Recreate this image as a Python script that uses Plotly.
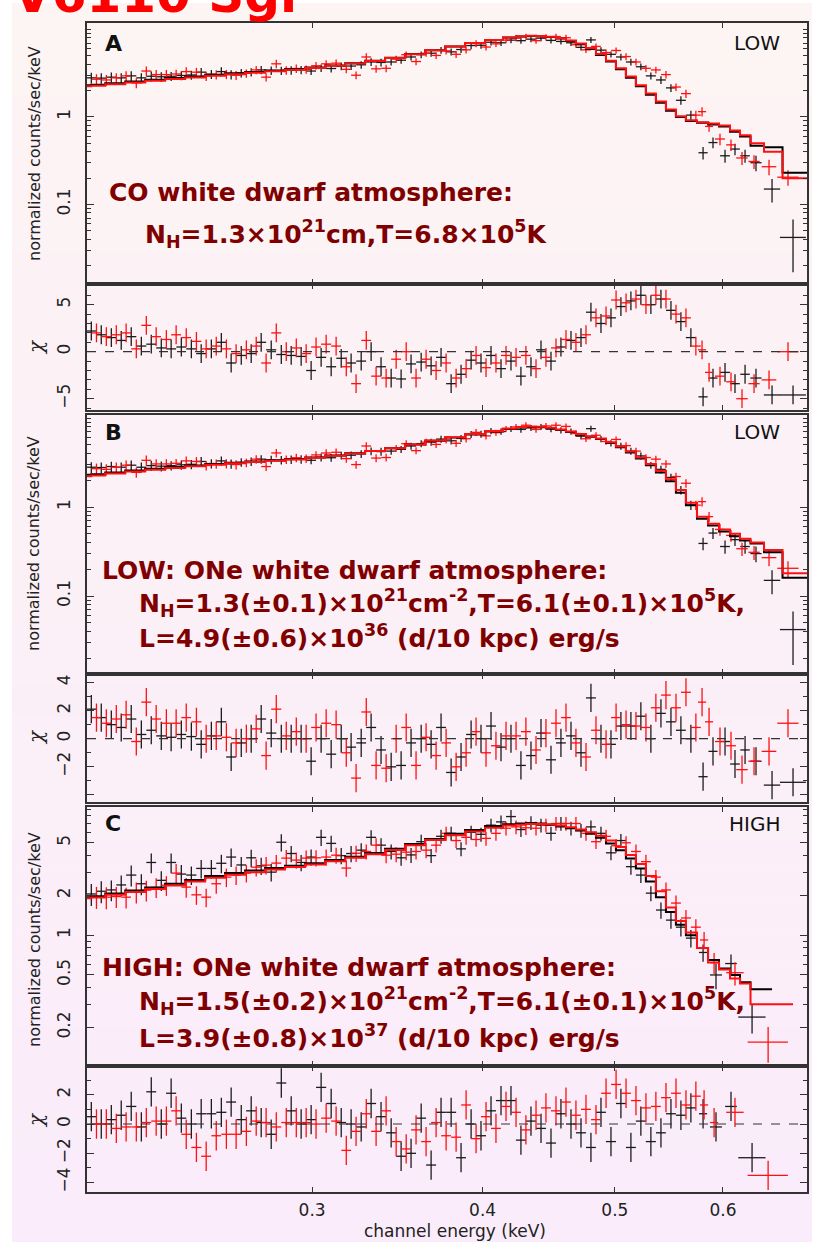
import math
import plotly.graph_objects as go

# ------------------------------------------------------------------ data
# regular channel bins (keV) and half widths
E_REG_BLACK = [0.2067, 0.2102, 0.2138, 0.2174, 0.2211, 0.2249, 0.2287, 0.2326, 0.2365, 0.2406,
               0.2447, 0.2488, 0.2531, 0.2574, 0.2617, 0.2662, 0.2707, 0.2753, 0.2800, 0.2848,
               0.2896, 0.2945, 0.2995, 0.3046, 0.3098, 0.3151, 0.3204, 0.3259, 0.3314, 0.3370,
               0.3428, 0.3486, 0.3545, 0.3606, 0.3667, 0.3729, 0.3793, 0.3857, 0.3923, 0.3989,
               0.4057, 0.4126, 0.4196, 0.4267, 0.4340, 0.4414, 0.4489, 0.4565, 0.4643, 0.4722,
               0.4802, 0.4884, 0.4967, 0.5051, 0.5137, 0.5224, 0.5313, 0.5404, 0.5496, 0.5589,
               0.5684]
E_REG_RED = [0.2085, 0.2120, 0.2156, 0.2192, 0.2230, 0.2268, 0.2306, 0.2346, 0.2385, 0.2426,
             0.2468, 0.2509, 0.2552, 0.2596, 0.2639, 0.2685, 0.2730, 0.2776, 0.2824, 0.2872,
             0.2921, 0.2970, 0.3020, 0.3072, 0.3124, 0.3178, 0.3231, 0.3287, 0.3342, 0.3399,
             0.3457, 0.3516, 0.3575, 0.3636, 0.3698, 0.3761, 0.3825, 0.3890, 0.3956, 0.4023,
             0.4091, 0.4161, 0.4232, 0.4303, 0.4377, 0.4451, 0.4527, 0.4604, 0.4682, 0.4762,
             0.4843, 0.4926, 0.5010, 0.5095, 0.5181, 0.5269, 0.5358, 0.5450, 0.5543, 0.5637,
             0.5732]
HW_REG = [0.0017, 0.0018, 0.0018, 0.0018, 0.0019, 0.0019, 0.0019, 0.0020, 0.0020, 0.0020,
          0.0021, 0.0021, 0.0021, 0.0022, 0.0022, 0.0022, 0.0023, 0.0023, 0.0024, 0.0024,
          0.0024, 0.0025, 0.0025, 0.0026, 0.0026, 0.0026, 0.0027, 0.0027, 0.0028, 0.0028,
          0.0029, 0.0029, 0.0030, 0.0030, 0.0031, 0.0031, 0.0032, 0.0032, 0.0033, 0.0034,
          0.0034, 0.0035, 0.0035, 0.0036, 0.0036, 0.0037, 0.0038, 0.0038, 0.0039, 0.0040,
          0.0040, 0.0041, 0.0042, 0.0042, 0.0043, 0.0044, 0.0045, 0.0045, 0.0046, 0.0047,
          0.0048]

# LOW state spectrum (panels A and B)
E_LOW_BLACK_WIDE = [0.5802, 0.5900, 0.6021, 0.6123, 0.6228, 0.6344, 0.6518, 0.6753]
HW_LOW_BLACK_WIDE = [0.0045, 0.0045, 0.005, 0.005, 0.005, 0.006, 0.009, 0.0148]
Y_LOW_BLACK = [2.80, 2.78, 2.85, 2.80, 2.95, 2.80, 2.92, 2.88, 2.92, 2.98,
               3.02, 3.25, 3.08, 3.30, 3.05, 3.18, 3.25, 3.45, 3.40, 3.38,
               3.42, 3.45, 3.35, 3.62, 3.58, 3.80, 3.82, 3.95, 4.25, 4.20,
               4.25, 4.45, 4.85, 5.15, 5.35, 5.80, 5.55, 5.90, 6.55, 6.60,
               7.15, 7.05, 7.55, 7.45, 7.75, 7.95, 7.50, 7.30, 7.05, 6.25,
               7.60, 5.80, 5.20, 4.85, 4.25, 3.75, 2.95, 2.65, 2.15, 1.55,
               1.05,
               0.39, 0.51, 0.36, 0.43, 0.36, 0.30, 0.15, 0.042]
E_LOW_RED_WIDE = [0.5792, 0.5861, 0.5970, 0.6082, 0.6196, 0.6323, 0.6485, 0.6696]
HW_LOW_RED_WIDE = [0.004, 0.004, 0.005, 0.005, 0.006, 0.006, 0.008, 0.012]
Y_LOW_RED = [2.70, 2.65, 2.80, 2.95, 2.45, 3.35, 3.05, 3.05, 3.10, 3.30,
             3.25, 2.93, 3.05, 3.08, 3.00, 3.15, 3.45, 2.85, 4.05, 3.42,
             3.58, 3.50, 3.85, 4.05, 4.12, 3.50, 3.00, 4.85, 3.55, 3.60,
             4.58, 5.15, 4.30, 5.35, 5.05, 5.70, 5.20, 5.85, 6.90, 6.30,
             6.85, 7.55, 7.95, 8.30, 7.45, 8.15, 8.30, 8.05, 6.70, 5.85,
             6.40, 5.45, 5.75, 4.90, 4.25, 3.60, 3.45, 3.05, 2.20, 1.85,
             1.05,
             1.15, 0.78, 0.56, 0.48, 0.34, 0.31, 0.27, 0.205]
REL_LOW = [0.14, 0.14, 0.13, 0.13, 0.13, 0.13, 0.13, 0.13, 0.12, 0.12,
           0.12, 0.12, 0.12, 0.12, 0.12, 0.11, 0.11, 0.11, 0.11, 0.11,
           0.11, 0.11, 0.10, 0.10, 0.10, 0.10, 0.10, 0.10, 0.10, 0.10,
           0.09, 0.09, 0.09, 0.09, 0.09, 0.09, 0.09, 0.09, 0.09, 0.09,
           0.08, 0.08, 0.08, 0.08, 0.08, 0.08, 0.08, 0.08, 0.08, 0.08,
           0.08, 0.08, 0.08, 0.09, 0.09, 0.09, 0.09, 0.10, 0.10, 0.11,
           0.12]
REL_LOW_BLACK_WIDE = [0.16, 0.14, 0.17, 0.15, 0.17, 0.20, 0.30, 0.60]
REL_LOW_RED_WIDE = [0.12, 0.13, 0.15, 0.15, 0.17, 0.18, 0.20, 0.20]

# residuals (chi) for CO model (A) and ONe model (B)
RES_A_BLACK = [2.2, 1.8, 1.5, 1.2, 1.6, 0.6, 0.8, 0.4, 0.3, 0.5,
               0.3, -0.2, 0.3, 1.0, -1.2, -0.4, -0.2, 1.0, 0.2, -0.3,
               -0.4, -0.5, -2.0, -0.6, -1.6, -0.7, -1.2, -1.0, 0.0, -1.6,
               -2.8, -2.9, -1.3, -1.1, -1.5, -0.6, -3.4, -2.4, -0.9, -1.2,
               -0.4, -1.8, -1.0, -2.6, -1.6, 0.2, -1.0, 0.5, 1.2, 1.5,
               4.2, 3.0, 3.6, 4.8, 5.4, 6.0, 5.0, 5.6, 4.4, 3.2,
               1.5,
               -4.8, -2.8, -2.2, -3.4, -2.4, -2.8, -4.6, -4.6]
RES_A_RED = [2.0, 1.6, 1.8, 2.0, 0.3, 2.8, 1.6, 1.3, 1.8, 1.5,
             1.1, 0.3, 0.6, 0.3, -0.2, 0.2, 0.6, -1.2, 2.0, 0.0,
             0.4, -0.2, 0.5, 0.8, 0.6, -1.6, -3.4, 1.2, -2.6, -2.8,
             -0.8, 0.0, -2.8, -0.8, -2.0, -1.2, -2.8, -1.8, -0.4, -1.7,
             -1.2, -0.4, -0.6, -0.4, -1.8, -0.6, 0.4, 1.3, 1.0, 1.8,
             3.6, 3.8, 5.5, 5.2, 5.6, 5.0, 6.0, 5.6, 4.0, 3.6,
             0.6,
             0.2, -2.2, -2.6, -3.2, -5.0, -3.4, -3.0, 0.0]
RES_B_BLACK = [2.1, 1.5, 1.0, 0.8, 1.4, 0.3, 0.6, 0.2, 0.1, 0.3,
               0.15, -0.4, 0.2, 1.2, -1.3, -0.3, 0.0, 1.4, 0.4, 0.0,
               0.0, 0.0, -1.6, 0.0, -1.1, 0.0, -0.6, -0.3, 0.8, -0.8,
               -2.0, -1.9, -0.3, 0.0, -0.4, 0.8, -2.4, -1.3, 0.3, 0.0,
               0.9, -0.6, 0.0, -1.9, -1.2, 0.4, -1.5, -0.3, 0.2, -1.0,
               2.9, 0.0, -0.4, 0.9, 0.9, 1.6, 0.0, 1.8, 1.2, 0.6,
               0.0,
               -2.7, -0.9, -0.2, -1.8, -0.8, -1.6, -3.3, -3.1]
RES_B_RED = [1.5, 1.1, 1.4, 1.7, -0.2, 2.6, 1.4, 1.1, 1.1, 1.5,
             1.2, 0.0, 0.2, 0.1, -0.3, 0.0, 0.7, -1.2, 2.1, 0.2,
             0.5, 0.0, 0.8, 1.1, 1.0, -1.0, -2.8, 1.9, -1.9, -2.1,
             0.0, 0.8, -1.9, 0.1, -1.2, -0.3, -2.0, -1.0, 0.5, -1.0,
             -0.5, 0.2, 0.2, 0.5, -0.8, 0.4, 1.1, 1.5, -0.3, -1.3,
             0.6, -0.4, 1.5, 1.0, 0.9, 0.8, 2.2, 3.1, 2.2, 3.3,
             0.8,
             2.6, 1.2, -0.2, -0.5, -2.2, -1.6, -0.9, 1.1]

# HIGH state spectrum (panel C)
E_HIGH_BLACK_WIDE = [0.5802, 0.5930, 0.6082, 0.6302]
HW_HIGH_BLACK_WIDE = [0.004, 0.006, 0.006, 0.0145]
E_HIGH_RED_WIDE = [0.5812, 0.5911, 0.6123, 0.6475]
HW_HIGH_RED_WIDE = [0.004, 0.004, 0.009, 0.022]
Y_HIGH_BLACK = [2.05, 2.15, 2.20, 2.40, 2.85, 2.45, 3.55, 2.60, 3.55, 2.90,
                2.85, 3.20, 3.20, 3.50, 3.90, 3.40, 3.85, 3.35, 3.00, 5.05,
                4.15, 3.55, 3.90, 5.50, 4.95, 4.00, 4.15, 4.40, 5.50, 4.80,
                4.30, 3.85, 4.05, 5.10, 4.00, 5.60, 5.90, 4.50, 6.00, 5.80,
                6.80, 7.20, 7.90, 6.30, 7.10, 6.80, 5.90, 7.00, 6.45, 6.20,
                6.60, 5.90, 4.20, 5.20, 3.30, 2.85, 2.08, 1.55, 1.30, 1.15,
                0.95,
                0.74, 0.50, 0.61, 0.24]
Y_HIGH_RED = [1.95, 1.94, 1.96, 1.94, 2.12, 2.19, 2.30, 2.39, 2.95, 2.31,
              2.02, 1.94, 2.45, 2.75, 2.85, 2.95, 3.27, 3.39, 3.51, 3.83,
              3.70, 3.83, 3.85, 3.90, 4.03, 3.22, 4.17, 4.30, 4.80, 4.03,
              4.10, 4.25, 4.30, 4.40, 4.80, 5.90, 5.20, 5.50, 5.30, 5.40,
              5.90, 6.45, 6.60, 6.50, 6.45, 6.80, 7.00, 7.00, 7.00, 5.90,
              5.10, 5.60, 4.75, 5.00, 4.30, 3.60, 2.75, 2.20, 1.75, 1.35,
              1.15,
              0.92, 0.62, 0.52, 0.155]
REL_HIGH = [0.19, 0.19, 0.18, 0.18, 0.18, 0.18, 0.17, 0.17, 0.17, 0.17,
            0.16, 0.16, 0.16, 0.16, 0.16, 0.15, 0.15, 0.15, 0.15, 0.15,
            0.14, 0.14, 0.14, 0.14, 0.14, 0.14, 0.14, 0.13, 0.13, 0.13,
            0.13, 0.13, 0.13, 0.13, 0.12, 0.12, 0.12, 0.12, 0.12, 0.12,
            0.12, 0.12, 0.12, 0.12, 0.12, 0.12, 0.12, 0.12, 0.12, 0.12,
            0.12, 0.12, 0.12, 0.12, 0.13, 0.13, 0.13, 0.14, 0.14, 0.15,
            0.15]
REL_HIGH_BLACK_WIDE = [0.15, 0.22, 0.17, 0.25]
REL_HIGH_RED_WIDE = [0.15, 0.18, 0.20, 0.30]
RES_C_BLACK = [0.5, 0.0, 0.3, 0.6, 1.2, -0.2, 2.2, 0.0, 2.1, 0.4,
               0.0, 0.7, 0.7, 0.8, 1.5, 0.3, 0.9, 0.1, -0.7, 2.8,
               0.9, 0.0, 0.3, 2.5, 1.4, 0.1, 0.0, -0.2, 1.4, 0.5,
               -0.6, -2.2, -2.0, 0.4, -2.8, 0.8, 0.8, -2.3, 0.0, -0.8,
               0.9, 1.6, 1.6, -1.1, 0.2, -0.3, -1.3, 0.7, 0.0, -0.6,
               -1.6, 0.8, -1.2, 1.4, -1.6, 0.2, -1.2, -0.6, 0.7, 0.6,
               1.1,
               0.7, -0.2, 1.2, -2.3]
RES_C_RED = [0.0, 0.0, -0.3, -0.2, -0.2, 0.1, 0.2, 0.2, 0.9, -0.7,
             -1.6, -2.2, -0.8, -0.7, -0.7, -0.5, 0.2, 0.1, -0.2, 0.1,
             0.1, 0.1, 0.0, 0.4, 0.2, -1.8, -0.5, 0.7, -0.5, 0.9,
             -1.2, -1.7, -0.4, -1.2, 0.1, -0.8, -0.9, 1.3, -1.0, 0.5,
             -0.3, 1.2, 0.8, -0.4, 0.6, 1.1, 0.9, 1.5, 0.6, 1.0,
             0.3, 2.1, 2.7, 2.1, 1.6, 1.1, 1.2, 1.8, 2.1, 1.3,
             1.9,
             1.3, 0.1, 0.8, -3.5]

# folded model histograms (shared energy grid)
E_MODEL = [0.2052, 0.2081, 0.2152, 0.2226, 0.2302, 0.2381, 0.2463, 0.2547, 0.2634, 0.2725,
           0.2818, 0.2915, 0.3015, 0.3119, 0.3226, 0.3336, 0.3451, 0.3569, 0.3692, 0.3818,
           0.3949, 0.4085, 0.4196, 0.4267, 0.4340, 0.4414, 0.4489, 0.4565, 0.4643, 0.4722,
           0.4802, 0.4884, 0.4967, 0.5051, 0.5137, 0.5224, 0.5313, 0.5404, 0.5496, 0.5589,
           0.5684, 0.5802, 0.5900, 0.6021, 0.6123, 0.6228, 0.6344, 0.6518, 0.6753, 0.6914]
MODEL_A_BLACK = [2.30, 2.33, 2.43, 2.55, 2.66, 2.79, 2.91, 3.03, 3.15, 3.27,
                 3.40, 3.53, 3.68, 3.88, 4.12, 4.40, 4.75, 5.25, 5.80, 6.40,
                 7.00, 7.60, 8.10, 8.30, 8.40, 8.35, 8.20, 7.90, 7.40, 6.80,
                 6.00, 5.10, 4.30, 3.50, 2.80, 2.25, 1.80, 1.45, 1.18, 1.00,
                 0.90, 0.86, 0.82, 0.78, 0.68, 0.60, 0.47, 0.45, 0.23, 0.23]
MODEL_A_RED = [2.24, 2.27, 2.36, 2.48, 2.59, 2.71, 2.83, 2.95, 3.07, 3.20,
               3.33, 3.47, 3.63, 3.84, 4.08, 4.36, 4.72, 5.22, 5.78, 6.38,
               7.00, 7.60, 8.10, 8.35, 8.45, 8.40, 8.25, 7.95, 7.50, 6.90,
               6.15, 5.25, 4.40, 3.60, 2.90, 2.30, 1.85, 1.50, 1.22, 1.02,
               0.92, 0.87, 0.84, 0.80, 0.70, 0.62, 0.50, 0.40, 0.20, 0.20]
MODEL_B_BLACK = [2.30, 2.33, 2.45, 2.57, 2.69, 2.81, 2.93, 3.04, 3.14, 3.24,
                 3.34, 3.46, 3.61, 3.80, 4.01, 4.26, 4.58, 5.05, 5.55, 6.05,
                 6.55, 7.05, 7.55, 7.85, 7.95, 7.90, 7.70, 7.35, 6.95, 6.50,
                 6.15, 5.80, 5.25, 4.70, 4.10, 3.50, 2.95, 2.45, 1.95, 1.45,
                 1.05, 0.74, 0.62, 0.53, 0.47, 0.42, 0.39, 0.31, 0.16, 0.16]
MODEL_B_RED = [2.22, 2.26, 2.38, 2.50, 2.62, 2.75, 2.87, 2.99, 3.10, 3.20,
               3.31, 3.43, 3.58, 3.77, 3.99, 4.25, 4.58, 5.05, 5.58, 6.10,
               6.62, 7.15, 7.65, 7.95, 8.05, 8.00, 7.80, 7.45, 7.05, 6.60,
               6.25, 5.90, 5.35, 4.80, 4.20, 3.60, 3.05, 2.55, 2.05, 1.55,
               1.12, 0.78, 0.65, 0.56, 0.50, 0.44, 0.40, 0.33, 0.18, 0.18]
MODEL_C_BLACK = [1.94, 1.97, 2.07, 2.18, 2.30, 2.45, 2.62, 2.80, 2.95, 3.08,
                 3.22, 3.36, 3.50, 3.70, 3.92, 4.18, 4.50, 4.90, 5.35, 5.85,
                 6.25, 6.70, 6.90, 7.00, 7.05, 7.00, 6.85, 6.65, 6.45, 6.20,
                 5.85, 5.45, 4.95, 4.40, 3.80, 3.20, 2.55, 1.94, 1.50, 1.20,
                 1.00, 0.80, 0.65, 0.56, 0.50, 0.44, 0.39, 0.39, None, None]
MODEL_C_RED = [1.90, 1.93, 2.02, 2.12, 2.24, 2.38, 2.55, 2.72, 2.87, 3.00,
               3.14, 3.28, 3.43, 3.63, 3.85, 4.10, 4.42, 4.80, 5.25, 5.70,
               6.10, 6.50, 6.75, 6.85, 6.95, 6.95, 6.90, 6.75, 6.55, 6.30,
               6.00, 5.65, 5.20, 4.65, 4.05, 3.45, 2.80, 2.15, 1.62, 1.28,
               1.05, 0.80, 0.62, 0.55, 0.47, 0.43, 0.30, 0.30, 0.30, None]

X_TICKS = [0.3, 0.4, 0.5, 0.6]
X_TICK_TEXT = ["0.3", "0.4", "0.5", "0.6"]

# ------------------------------------------------------------------ assemble series
E_LOW_BLACK = E_REG_BLACK + E_LOW_BLACK_WIDE
E_LOW_RED = E_REG_RED + E_LOW_RED_WIDE
HW_LOW_BLACK = HW_REG + HW_LOW_BLACK_WIDE
HW_LOW_RED = HW_REG + HW_LOW_RED_WIDE
REL_LOW_BLACK = REL_LOW + REL_LOW_BLACK_WIDE
REL_LOW_RED = REL_LOW + REL_LOW_RED_WIDE
E_HIGH_BLACK = E_REG_BLACK + E_HIGH_BLACK_WIDE
E_HIGH_RED = E_REG_RED + E_HIGH_RED_WIDE
HW_HIGH_BLACK = HW_REG + HW_HIGH_BLACK_WIDE
HW_HIGH_RED = HW_REG + HW_HIGH_RED_WIDE
REL_HIGH_BLACK = REL_HIGH + REL_HIGH_BLACK_WIDE
REL_HIGH_RED = REL_HIGH + REL_HIGH_RED_WIDE

for a, b in [(E_LOW_BLACK, Y_LOW_BLACK), (E_LOW_RED, Y_LOW_RED), (E_LOW_BLACK, RES_A_BLACK),
             (E_LOW_RED, RES_A_RED), (E_LOW_BLACK, RES_B_BLACK), (E_LOW_RED, RES_B_RED),
             (E_HIGH_BLACK, Y_HIGH_BLACK), (E_HIGH_RED, Y_HIGH_RED), (E_HIGH_BLACK, RES_C_BLACK),
             (E_HIGH_RED, RES_C_RED), (E_LOW_BLACK, REL_LOW_BLACK), (E_HIGH_RED, REL_HIGH_RED),
             (E_MODEL, MODEL_A_BLACK), (E_MODEL, MODEL_A_RED), (E_MODEL, MODEL_B_BLACK),
             (E_MODEL, MODEL_B_RED), (E_MODEL, MODEL_C_BLACK), (E_MODEL, MODEL_C_RED)]:
    assert len(a) == len(b), (len(a), len(b))

# ------------------------------------------------------------------ styling
W, H = 814, 1242
BLACK = "#1c1c1c"
RED = "#ff1010"
MAROON = "#800000"
AXC = "#333333"
FONT = "DejaVu Sans"


def fx(px):
    return px / W


def fy(py):
    return 1 - py / H


PANELS = [(23, 284), (284, 410), (415, 674), (674, 802), (807, 1066), (1066, 1192)]
X_DOM = [fx(87), fx(807)]

fig = go.Figure()


def ax(i, kind):
    return kind if i == 1 else f"{kind}{i}"


def add_data(i, e, y, hw, rel, color):
    fig.add_trace(go.Scatter(
        x=e, y=y, mode="markers", xaxis=ax(i, "x"), yaxis=ax(i, "y"),
        marker=dict(size=1, color=color),
        error_x=dict(type="data", array=hw, width=0, thickness=1.3, color=color),
        error_y=dict(type="data", array=[r * v for r, v in zip(rel, y)], width=0, thickness=1.3, color=color),
        showlegend=False, hoverinfo="skip"))


def add_res(i, e, r, hw, color):
    fig.add_trace(go.Scatter(
        x=e, y=r, mode="markers", xaxis=ax(i, "x"), yaxis=ax(i, "y"),
        marker=dict(size=1, color=color),
        error_x=dict(type="data", array=hw, width=0, thickness=1.3, color=color),
        error_y=dict(type="data", array=[1.0] * len(r), width=0, thickness=1.3, color=color),
        showlegend=False, hoverinfo="skip"))


def add_model(i, vals, color):
    fig.add_trace(go.Scatter(
        x=E_MODEL, y=vals, mode="lines", xaxis=ax(i, "x"), yaxis=ax(i, "y"),
        line=dict(shape="hvh", width=2, color=color), connectgaps=False,
        showlegend=False, hoverinfo="skip"))


# panel A
add_data(1, E_LOW_BLACK, Y_LOW_BLACK, HW_LOW_BLACK, REL_LOW_BLACK, BLACK)
add_data(1, E_LOW_RED, Y_LOW_RED, HW_LOW_RED, REL_LOW_RED, RED)
add_model(1, MODEL_A_BLACK, "#000000")
add_model(1, MODEL_A_RED, RED)
add_res(2, E_LOW_BLACK, RES_A_BLACK, HW_LOW_BLACK, BLACK)
add_res(2, E_LOW_RED, RES_A_RED, HW_LOW_RED, RED)
# panel B
add_data(3, E_LOW_BLACK, Y_LOW_BLACK, HW_LOW_BLACK, REL_LOW_BLACK, BLACK)
add_data(3, E_LOW_RED, Y_LOW_RED, HW_LOW_RED, REL_LOW_RED, RED)
add_model(3, MODEL_B_BLACK, "#000000")
add_model(3, MODEL_B_RED, RED)
add_res(4, E_LOW_BLACK, RES_B_BLACK, HW_LOW_BLACK, BLACK)
add_res(4, E_LOW_RED, RES_B_RED, HW_LOW_RED, RED)
# panel C
add_data(5, E_HIGH_BLACK, Y_HIGH_BLACK, HW_HIGH_BLACK, REL_HIGH_BLACK, BLACK)
add_data(5, E_HIGH_RED, Y_HIGH_RED, HW_HIGH_RED, REL_HIGH_RED, RED)
add_model(5, MODEL_C_BLACK, "#000000")
add_model(5, MODEL_C_RED, RED)
add_res(6, E_HIGH_BLACK, RES_C_BLACK, HW_HIGH_BLACK, BLACK)
add_res(6, E_HIGH_RED, RES_C_RED, HW_HIGH_RED, RED)

tickfont = dict(family=FONT, size=17, color="#222222")
frame = dict(showline=True, linecolor=AXC, linewidth=1.6, mirror="ticks", ticks="inside",
             tickcolor=AXC, showgrid=False, zeroline=False)

layout = dict(width=W, height=H, margin=dict(l=0, r=0, t=0, b=0),
              paper_bgcolor="white", plot_bgcolor="rgba(0,0,0,0)", showlegend=False)

XR = [math.log10(0.2052), math.log10(0.6914)]
for i in range(1, 7):
    xa = dict(domain=X_DOM, anchor=ax(i, "y"), type="log", range=XR,
              tickmode="array", tickvals=X_TICKS, ticktext=X_TICK_TEXT,
              ticklen=5, tickwidth=1.2, showticklabels=(i == 6), tickfont=tickfont,
              ticklabelstandoff=2, **frame)
    if i > 1:
        xa["matches"] = "x"
    layout["xaxis" if i == 1 else f"xaxis{i}"] = xa

LOG_MINOR_AB = [0.02, 0.03, 0.04, 0.05, 0.06, 0.07, 0.08, 0.09,
                0.2, 0.3, 0.4, 0.5, 0.6, 0.7, 0.8, 0.9,
                2, 3, 4, 5, 6, 7, 8, 9, 10]
LOG_MINOR_C = [0.3, 0.4, 0.6, 0.7, 0.8, 0.9, 3, 4, 6, 7, 8, 9]

ycfg = {
    1: dict(type="log", range=[-1.909, 1.074], tickvals=[0.1, 1], ticktext=["0.1", "1"], minor_vals=LOG_MINOR_AB),
    2: dict(type="linear", range=[-6.2, 7.2], tickvals=[-5, 0, 5], ticktext=["\u22125", "0", "5"]),
    3: dict(type="log", range=[-1.876, 1.034], tickvals=[0.1, 1], ticktext=["0.1", "1"], minor_vals=LOG_MINOR_AB),
    4: dict(type="linear", range=[-4.5, 4.6], tickvals=[-4, -2, 0, 2, 4], ticktext=["", "\u22122", "0", "2", "4"]),
    5: dict(type="log", range=[-0.99, 0.97], tickvals=[0.2, 0.5, 1, 2, 5], ticktext=["0.2", "0.5", "1", "2", "5"], minor_vals=LOG_MINOR_C),
    6: dict(type="linear", range=[-4.64, 3.96], tickvals=[-4, -2, 0, 2], ticktext=["\u22124", "\u22122", "0", "2"]),
}
for i in range(1, 7):
    c = ycfg[i]
    top, bot = PANELS[i - 1]
    ya = dict(domain=[fy(bot), fy(top)], anchor=ax(i, "x"), type=c["type"], range=c["range"],
              tickmode="array", tickvals=c["tickvals"], ticktext=c["ticktext"],
              ticklen=7, tickwidth=1.2, tickangle=-90, tickfont=tickfont,
              ticklabelstandoff=8, **frame)
    if c["type"] == "log":
        ya["minor"] = dict(tickmode="array", tickvals=c["minor_vals"], ticks="inside",
                           ticklen=4, tickcolor=AXC, tickwidth=1)
    else:
        ya["minor"] = dict(dtick=1, ticks="inside", ticklen=4, tickcolor=AXC, tickwidth=1)
    layout["yaxis" if i == 1 else f"yaxis{i}"] = ya

# background gradient (pink to lavender)
shapes = []
top_rgb = (253, 244, 244)
bot_rgb = (250, 236, 250)
nb = 40
y_start = 3
for k in range(nb):
    t = k / (nb - 1)
    col = "rgb(%d,%d,%d)" % tuple(round(a + (b - a) * t) for a, b in zip(top_rgb, bot_rgb))
    y0 = y_start + (H - y_start) * k / nb
    y1 = y_start + (H - y_start) * (k + 1) / nb
    shapes.append(dict(type="rect", xref="paper", yref="paper", x0=fx(12), x1=fx(812),
                       y0=fy(y1 + 0.5), y1=fy(y0), line=dict(width=0), fillcolor=col, layer="below"))
# zero lines in residual panels
for i in (2, 4, 6):
    shapes.append(dict(type="line", xref=f"x{i} domain", yref=f"y{i}", x0=0, x1=1, y0=0, y1=0,
                       line=dict(color=AXC, width=1.2, dash="dash")))
# thicker separator above residual C
shapes.append(dict(type="line", xref="paper", yref="paper", x0=fx(87), x1=fx(807),
                   y0=fy(1066), y1=fy(1066), line=dict(color=AXC, width=3.5)))
layout["shapes"] = shapes

ann = []


def note(text, x, y, size, color, xanchor="left", bold=False, angle=0, family=FONT, yanchor="middle"):
    ann.append(dict(text=text, x=fx(x), y=fy(y), xref="paper", yref="paper", xanchor=xanchor,
                    yanchor=yanchor, showarrow=False, textangle=angle,
                    font=dict(family=family, size=size, color=color, weight="bold" if bold else "normal")))


note("V6110 Sgr", 11, 26, 50, "#ff0000", bold=True, yanchor="bottom")
for lab, state, yc in [("A", "LOW", 43), ("B", "LOW", 432), ("C", "HIGH", 824)]:
    note(lab, 103, yc, 22, "#111111", bold=True)
    note(state, 782, yc, 20, "#111111", xanchor="right")

note("CO white dwarf atmosphere:", 107, 192, 25, MAROON, bold=True)
note("N<sub>H</sub>=1.3\u00d710<sup>21</sup>cm,T=6.8\u00d710<sup>5</sup>K", 143, 234, 25, MAROON, bold=True)

note("LOW: ONe white dwarf atmosphere:", 100, 570, 25, MAROON, bold=True)
note("N<sub>H</sub>=1.3(\u00b10.1)\u00d710<sup>21</sup>cm<sup>-2</sup>,T=6.1(\u00b10.1)\u00d710<sup>5</sup>K,",
     137, 603, 25, MAROON, bold=True)
note("L=4.9(\u00b10.6)\u00d710<sup>36</sup> (d/10 kpc) erg/s", 137, 636, 25, MAROON, bold=True)

note("HIGH: ONe white dwarf atmosphere:", 100, 967, 25, MAROON, bold=True)
note("N<sub>H</sub>=1.5(\u00b10.2)\u00d710<sup>21</sup>cm<sup>-2</sup>,T=6.1(\u00b10.1)\u00d710<sup>5</sup>K,",
     137, 1001, 25, MAROON, bold=True)
note("L=3.9(\u00b10.8)\u00d710<sup>37</sup> (d/10 kpc) erg/s", 137, 1036, 25, MAROON, bold=True)

for yc in (154, 544, 940):
    note("normalized counts/sec/keV", 34, yc, 16, "#222222", xanchor="center", angle=-90)
for yc in (347, 737, 1120):
    note("<i>\u03c7</i>", 36, yc, 20, "#222222", xanchor="center", angle=-90, family="DejaVu Serif")
note("channel energy (keV)", 455, 1231, 17, "#222222", xanchor="center")
layout["annotations"] = ann

fig.update_layout(**layout)
fig.write_html("out.html")
